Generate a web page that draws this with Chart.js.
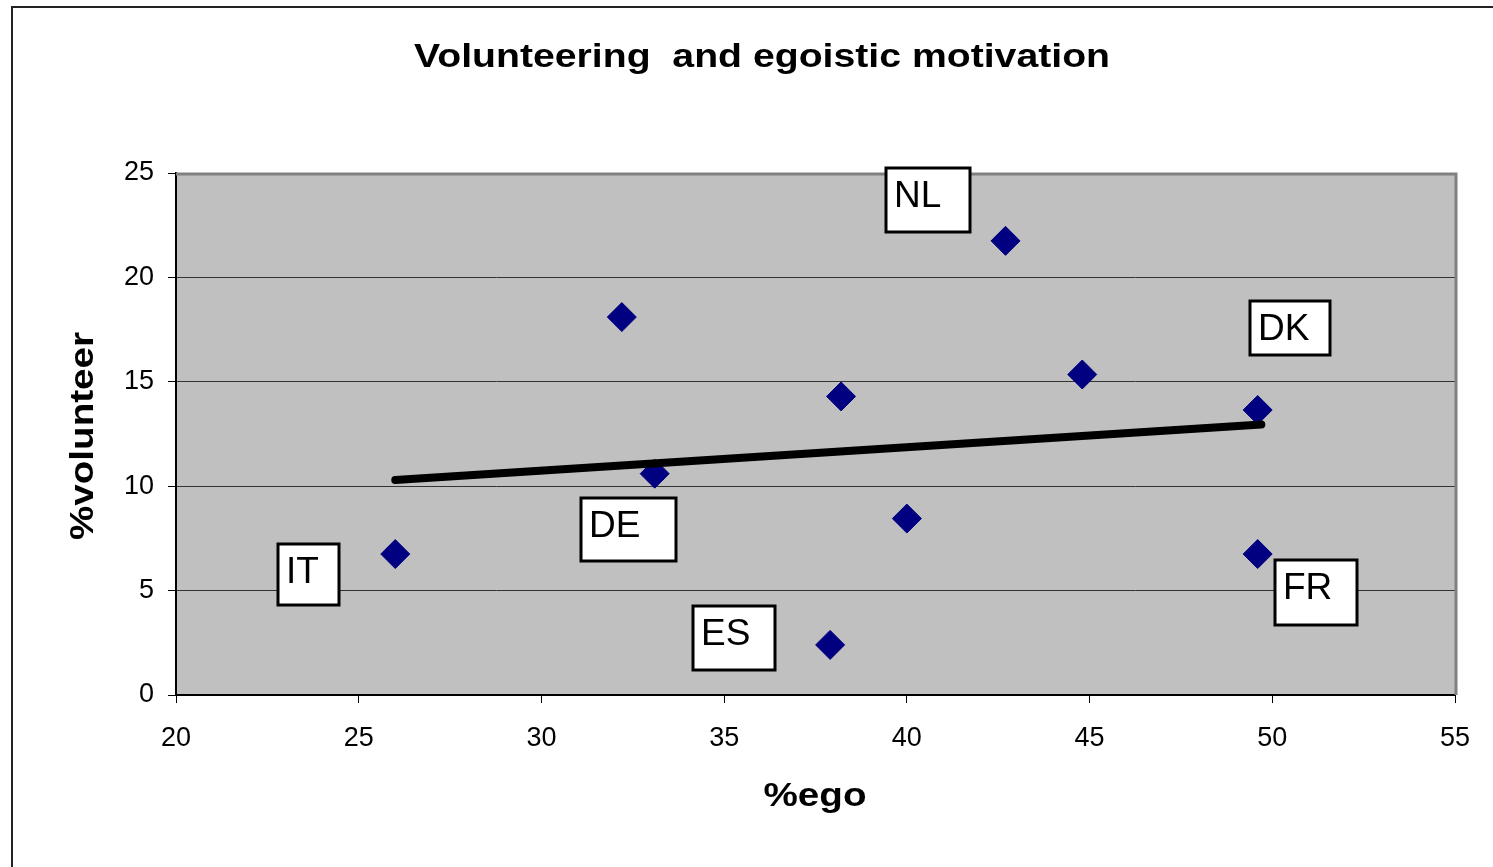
<!DOCTYPE html>
<html>
<head>
<meta charset="utf-8">
<title>Volunteering and egoistic motivation</title>
<script src="https://cdn.jsdelivr.net/npm/chart.js@4/dist/chart.umd.min.js"></script>
<style>
  html, body { margin: 0; padding: 0; background: #fff; }
  canvas { display: block; }
</style>
</head>
<body>
<canvas id="volunteerChart" width="1493" height="867"></canvas>
<script>
// data
const countries = ["IT", "", "DE", "ES", "", "", "NL", "", "DK", "FR"];
const egoValues = [26.0, 32.2, 33.1, 37.9, 38.2, 40.0, 42.7, 44.8, 49.6, 49.6];
const volunteerValues = [6.75, 18.1, 10.6, 2.4, 14.3, 8.45, 21.75, 15.35, 13.65, 6.75];
const trendEgo = [26.0, 49.7];
const trendVolunteer = [10.3, 12.95];
const xTicks = [20, 25, 30, 35, 40, 45, 50, 55];
const yTicks = [0, 5, 10, 15, 20, 25];

// where the text boxes sit (top-left corner, in axis units) and their size
const labelBoxes = [
  { text: "NL", x: 39.40, y: 25.29, w: 86, h: 66 },
  { text: "DK", x: 49.36, y: 18.92, w: 82, h: 56 },
  { text: "DE", x: 31.06, y: 9.48, w: 97, h: 65 },
  { text: "IT", x: 22.76, y: 7.28, w: 63, h: 63 },
  { text: "ES", x: 34.12, y: 4.31, w: 84, h: 66 },
  { text: "FR", x: 50.05, y: 6.51, w: 84, h: 67 }
];

// the bold headings in the original are drawn a bit wide, so they get stretched to length
const headings = [
  { text: "Volunteering  and egoistic motivation", x: 762, y: 58, length: 696, rotate: false },
  { text: "%ego", x: 815, y: 797, length: 103, rotate: false },
  { text: "%volunteer", x: 84, y: 436, length: 208, rotate: true }
];

const FONT = '"Liberation Sans", Arial, sans-serif';

function drawHeading(ctx, h) {
  ctx.save();
  ctx.font = "bold 34px " + FONT;
  ctx.fillStyle = "#000000";
  ctx.textAlign = "center";
  ctx.textBaseline = "middle";
  const stretch = h.length / ctx.measureText(h.text).width;
  ctx.translate(h.x, h.y);
  if (h.rotate) ctx.rotate(-Math.PI / 2);
  ctx.scale(stretch, 1);
  ctx.fillText(h.text, 0, 0);
  ctx.restore();
}

const backdrop = {
  id: "backdrop",
  beforeDraw(chart) {
    const ctx = chart.ctx;
    const a = chart.chartArea;
    ctx.save();
    ctx.fillStyle = "#ffffff";
    ctx.fillRect(0, 0, chart.width, chart.height);
    // outer frame
    ctx.strokeStyle = "#222222";
    ctx.lineWidth = 2;
    ctx.beginPath();
    ctx.moveTo(12, chart.height);
    ctx.lineTo(12, 7);
    ctx.lineTo(chart.width, 7);
    ctx.stroke();
    // plot area
    ctx.fillStyle = "#c0c0c0";
    ctx.fillRect(a.left, a.top, a.right - a.left, a.bottom - a.top);
    ctx.restore();
    headings.forEach(h => drawHeading(ctx, h));
  },
  beforeDatasetsDraw(chart) {
    const ctx = chart.ctx;
    const a = chart.chartArea;
    ctx.save();
    ctx.strokeStyle = "#808080";
    ctx.lineWidth = 3;
    ctx.beginPath();
    ctx.moveTo(a.left, a.top + 1);
    ctx.lineTo(a.right + 1, a.top + 1);
    ctx.lineTo(a.right + 1, a.bottom);
    ctx.stroke();
    ctx.restore();
  },
  afterDatasetsDraw(chart) {
    const ctx = chart.ctx;
    const xs = chart.scales.x;
    const ys = chart.scales.y;
    ctx.save();
    ctx.font = "37px " + FONT;
    ctx.textAlign = "left";
    ctx.textBaseline = "alphabetic";
    labelBoxes.forEach(box => {
      const left = Math.round(xs.getPixelForValue(box.x));
      const top = Math.round(ys.getPixelForValue(box.y));
      ctx.fillStyle = "#ffffff";
      ctx.fillRect(left, top, box.w, box.h);
      ctx.strokeStyle = "#000000";
      ctx.lineWidth = 3;
      ctx.strokeRect(left + 1, top + 1, box.w - 2, box.h - 2);
      ctx.fillStyle = "#000000";
      ctx.fillText(box.text, left + 9, top + 40);
    });
    ctx.restore();
  }
};

const points = egoValues.map((x, i) => ({ x, y: volunteerValues[i] }));
const trend = trendEgo.map((x, i) => ({ x, y: trendVolunteer[i] }));

new Chart(document.getElementById("volunteerChart"), {
  type: "scatter",
  data: {
    datasets: [
      {
        type: "line",
        label: "Trend",
        data: trend,
        borderColor: "#000000",
        borderWidth: 8,
        borderCapStyle: "round",
        pointRadius: 0,
        fill: false,
        order: 0
      },
      {
        label: "Countries",
        data: points,
        pointStyle: "rectRot",
        pointRadius: 14.5,
        pointBackgroundColor: "#000080",
        pointBorderColor: "#000080",
        pointBorderWidth: 1,
        order: 1
      }
    ]
  },
  options: {
    responsive: false,
    animation: false,
    layout: { padding: { top: 173, right: 38, bottom: 0, left: 0 } },
    plugins: {
      legend: { display: false },
      tooltip: { enabled: false }
    },
    scales: {
      x: {
        type: "linear",
        min: 20,
        max: 55,
        afterFit(scale) { scale.height = 172; },
        afterBuildTicks(scale) { scale.ticks = xTicks.map(v => ({ value: v })); },
        ticks: {
          color: "#000000",
          font: { family: FONT, size: 27 },
          padding: 19,
          maxRotation: 0
        },
        grid: {
          drawOnChartArea: false,
          tickLength: 8,
          tickColor: "#000000",
          tickWidth: 1
        },
        border: { color: "#000000", width: 2 }
      },
      y: {
        type: "linear",
        min: 0,
        max: 25,
        afterFit(scale) { scale.width = 176; },
        afterBuildTicks(scale) { scale.ticks = yTicks.map(v => ({ value: v })); },
        ticks: {
          color: "#000000",
          font: { family: FONT, size: 27 },
          padding: 14
        },
        grid: {
          color: ctx => (ctx.tick && (ctx.tick.value === 0 || ctx.tick.value === 25)) ? "rgba(0,0,0,0)" : "#333333",
          lineWidth: 1,
          tickLength: 8,
          tickColor: "#000000",
          tickWidth: 1
        },
        border: { color: "#000000", width: 2 }
      }
    }
  },
  plugins: [backdrop]
});
</script>
</body>
</html>
